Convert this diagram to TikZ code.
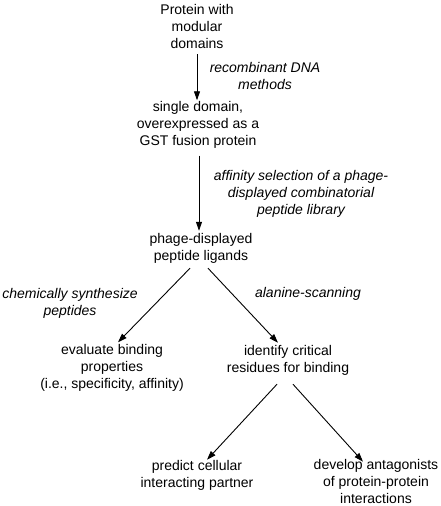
\documentclass[tikz,border=0pt]{standalone}
\usepackage{fontspec}
\setmainfont{Liberation Sans}
\usetikzlibrary{arrows.meta, positioning, calc}

\begin{document}
\begin{tikzpicture}[
    x=1pt, y=-1pt,
    stage/.style={align=center, inner sep=0pt, font=\fontsize{14}{17}\selectfont},
    method/.style={align=center, inner sep=0pt, font=\fontsize{14}{17}\selectfont\itshape},
    arrow/.style={-{Triangle[length=9pt, width=6pt]}, line width=0.9pt}
]
    \useasboundingbox (0, 0) rectangle (440, 506);

    % Stages
    \node[stage] (prot) at (197, 26) {Protein with\\modular\\domains};
    \node[stage] (dom) at (198, 125) {single domain,\\overexpressed as a\\GST fusion protein};
    \node[stage] (pep) at (201, 248) {phage-displayed\\peptide ligands};
    \node[stage] (eval) at (112, 368) {evaluate binding\\properties\\(i.e., specificity, affinity)};
    \node[stage] (ident) at (288, 360) {identify critical\\residues for binding};
    \node[stage] (pred) at (197, 475) {predict cellular\\interacting partner};
    \node[stage] (antag) at (376, 481) {develop antagonists\\of protein-protein\\interactions};

    % Methods
    \node[method] (recomb) at (265, 76) {recombinant DNA\\methods};
    \node[method] (select) at (301, 194) {affinity selection of a phage-\\displayed combinatorial\\peptide library};
    \node[method] (synth) at (70, 303) {chemically synthesize\\peptides};
    \node[method] (scan) at (308, 294) {alanine-scanning};

    % Arrows
    \draw[arrow] ($(prot.south)+(0, 6)$) -- ($(dom.north)+(-1, -1)$);
    \draw[arrow] ($(dom.south)+(1, 7)$) -- ($(pep.north)+(-2, -2)$);
    \draw[arrow] ($(pep.south)+(-11, 5)$) -- ($(eval.north)+(6, -2)$);
    \draw[arrow] ($(pep.south)+(7, 5)$) -- ($(ident.north)+(-10, -2)$);
    \draw[arrow] ($(ident.south)+(-11, 9)$) -- ($(pred.north)+(10, 0)$);
    \draw[arrow] ($(ident.south)+(5, 9)$) -- ($(antag.north)+(-13, 3)$);
\end{tikzpicture}
\end{document}
